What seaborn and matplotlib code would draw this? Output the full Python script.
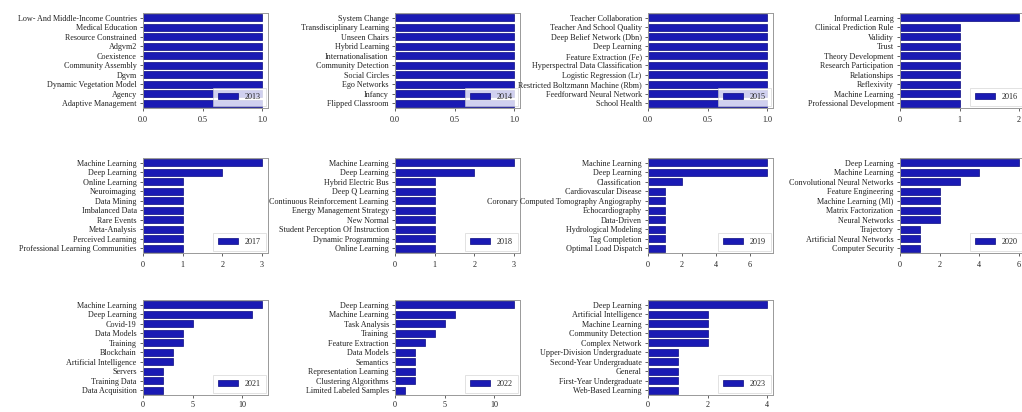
import matplotlib
matplotlib.use("Agg")
import matplotlib.pyplot as plt
import seaborn as sns
import pandas as pd

years = ["2013", "2014", "2015", "2016", "2017", "2018", "2019", "2020", "2021", "2022", "2023"]

kw_2013 = ["Low- And Middle-Income Countries", "Medical Education", "Resource Constrained", "Adgvm2",
           "Coexistence", "Community Assembly", "Dgvm", "Dynamic Vegetation Model", "Agency",
           "Adaptive Management"]
val_2013 = [1, 1, 1, 1, 1, 1, 1, 1, 1, 1]

kw_2014 = ["System Change", "Transdisciplinary Learning", "Unseen Chairs", "Hybrid Learning",
           "Internationalisation", "Community Detection", "Social Circles", "Ego Networks", "Infancy",
           "Flipped Classroom"]
val_2014 = [1, 1, 1, 1, 1, 1, 1, 1, 1, 1]

kw_2015 = ["Teacher Collaboration", "Teacher And School Quality", "Deep Belief Network (Dbn)",
           "Deep Learning", "Feature Extraction (Fe)", "Hyperspectral Data Classification",
           "Logistic Regression (Lr)", "Restricted Boltzmann Machine (Rbm)",
           "Feedforward Neural Network", "School Health"]
val_2015 = [1, 1, 1, 1, 1, 1, 1, 1, 1, 1]

kw_2016 = ["Informal Learning", "Clinical Prediction Rule", "Validity", "Trust", "Theory Development",
           "Research Participation", "Relationships", "Reflexivity", "Machine Learning",
           "Professional Development"]
val_2016 = [2, 1, 1, 1, 1, 1, 1, 1, 1, 1]

kw_2017 = ["Machine Learning", "Deep Learning", "Online Learning", "Neuroimaging", "Data Mining",
           "Imbalanced Data", "Rare Events", "Meta-Analysis", "Perceived Learning",
           "Professional Learning Communities"]
val_2017 = [3, 2, 1, 1, 1, 1, 1, 1, 1, 1]

kw_2018 = ["Machine Learning", "Deep Learning", "Hybrid Electric Bus", "Deep Q Learning",
           "Continuous Reinforcement Learning", "Energy Management Strategy", "New Normal",
           "Student Perception Of Instruction", "Dynamic Programming", "Online Learning"]
val_2018 = [3, 2, 1, 1, 1, 1, 1, 1, 1, 1]

kw_2019 = ["Machine Learning", "Deep Learning", "Classification", "Cardiovascular Disease",
           "Coronary Computed Tomography Angiography", "Echocardiography", "Data-Driven",
           "Hydrological Modeling", "Tag Completion", "Optimal Load Dispatch"]
val_2019 = [7, 7, 2, 1, 1, 1, 1, 1, 1, 1]

kw_2020 = ["Deep Learning", "Machine Learning", "Convolutional Neural Networks", "Feature Engineering",
           "Machine Learning (Ml)", "Matrix Factorization", "Neural Networks", "Trajectory",
           "Artificial Neural Networks", "Computer Security"]
val_2020 = [6, 4, 3, 2, 2, 2, 2, 1, 1, 1]

kw_2021 = ["Machine Learning", "Deep Learning", "Covid-19", "Data Models", "Training", "Blockchain",
           "Artificial Intelligence", "Servers", "Training Data", "Data Acquisition"]
val_2021 = [12, 11, 5, 4, 4, 3, 3, 2, 2, 2]

kw_2022 = ["Deep Learning", "Machine Learning", "Task Analysis", "Training", "Feature Extraction",
           "Data Models", "Semantics", "Representation Learning", "Clustering Algorithms",
           "Limited Labeled Samples"]
val_2022 = [12, 6, 5, 4, 3, 2, 2, 2, 2, 1]

kw_2023 = ["Deep Learning", "Artificial Intelligence", "Machine Learning", "Community Detection",
           "Complex Network", "Upper-Division Undergraduate", "Second-Year Undergraduate", "General",
           "First-Year Undergraduate", "Web-Based Learning"]
val_2023 = [4, 2, 2, 2, 2, 1, 1, 1, 1, 1]

keywords = [kw_2013, kw_2014, kw_2015, kw_2016, kw_2017, kw_2018, kw_2019, kw_2020, kw_2021, kw_2022, kw_2023]
values = [val_2013, val_2014, val_2015, val_2016, val_2017, val_2018, val_2019, val_2020, val_2021, val_2022, val_2023]
xticks = [[0, 0.5, 1.0], [0, 0.5, 1.0], [0, 0.5, 1.0], [0, 1, 2], [0, 1, 2, 3], [0, 1, 2, 3],
          [0, 2, 4, 6], [0, 2, 4, 6], [0, 5, 10], [0, 5, 10], [0, 2, 4]]
xticklabels = [["0.0", "0.5", "1.0"], ["0.0", "0.5", "1.0"], ["0.0", "0.5", "1.0"], ["0", "1", "2"],
               ["0", "1", "2", "3"], ["0", "1", "2", "3"], ["0", "2", "4", "6"], ["0", "2", "4", "6"],
               ["0", "5", "10"], ["0", "5", "10"], ["0", "2", "4"]]

sns.set_theme(style="ticks")
plt.rcParams["font.family"] = ["Liberation Serif", "DejaVu Serif"]

W, H = 1022, 412
fig = plt.figure(figsize=(W / 100, H / 100), dpi=100)

lefts = [143, 395, 648, 900]
tops = [13, 158, 300]
aw, ah = 125, 95

bar_color = "#1a1ab4"
fs = 5.9
for i, yr in enumerate(years):
    r, c = divmod(i, 4)
    x0 = lefts[c]
    y0 = tops[r]
    ax = fig.add_axes([x0 / W, 1 - (y0 + ah) / H, aw / W, ah / H])
    df = pd.DataFrame({"keyword": keywords[i], "count": values[i]})
    sns.barplot(data=df, x="count", y="keyword", orient="h", color=bar_color, width=0.7,
                edgecolor="#0a0a80", linewidth=0.5, saturation=1, label=yr, ax=ax)
    ax.set_xlabel("")
    ax.set_ylabel("")
    ax.set_xlim(0, max(values[i]) * 1.05)
    ax.set_xticks(xticks[i])
    ax.set_xticklabels(xticklabels[i])
    ax.tick_params(axis="both", labelsize=fs, length=2.5, width=0.5, pad=2, colors="#222222")
    ax.tick_params(axis="x", pad=3.5 if r < 2 else 2)
    for s in ax.spines.values():
        s.set_visible(True)
        s.set_color("#999999")
        s.set_linewidth(0.7)
    leg = ax.legend(loc="lower right", fontsize=fs, frameon=True, handlelength=2.4,
                    handleheight=0.8, borderpad=0.6, fancybox=False, borderaxespad=0.3)
    leg.get_frame().set_edgecolor("#cccccc")
    leg.get_frame().set_linewidth(0.5)

fig.savefig("out.png", dpi=100)
